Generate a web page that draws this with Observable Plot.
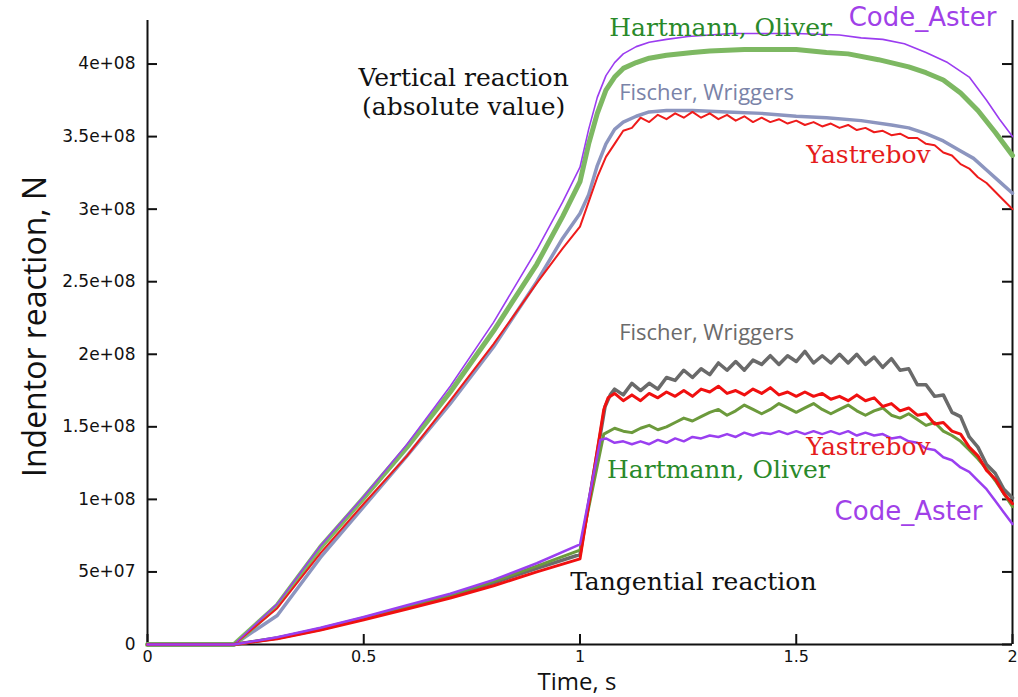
<!DOCTYPE html>
<html><head><meta charset="utf-8">
<script src="https://cdn.jsdelivr.net/npm/d3@7"></script>
<script src="https://cdn.jsdelivr.net/npm/@observablehq/plot@0.6"></script>
<style>body{margin:0;background:#fff;}</style>
</head><body><div id="chart"></div>
<script>
// ---- axis ticks ----
const xTicks = [0, 0.5, 1, 1.5, 2];
const yTicks = [0, 5e7, 1e8, 1.5e8, 2e8, 2.5e8, 3e8, 3.5e8, 4e8];

// ---- vertical reaction (values in units of 1e8 N) ----
const tVertAster = [0, 0.2, 0.3, 0.4, 0.5, 0.6, 0.7, 0.8, 0.9, 0.96, 1.0, 1.02, 1.04, 1.06, 1.08, 1.10, 1.13, 1.16, 1.20, 1.25, 1.30, 1.35, 1.40, 1.50, 1.60, 1.65, 1.70, 1.75, 1.80, 1.85, 1.90, 1.94, 1.97, 2.0];
const vVertAster = [0, 0, 0.28, 0.68, 1.02, 1.38, 1.78, 2.22, 2.72, 3.05, 3.29, 3.55, 3.77, 3.92, 4.01, 4.07, 4.12, 4.15, 4.17, 4.19, 4.20, 4.21, 4.21, 4.21, 4.20, 4.18, 4.17, 4.14, 4.08, 4.01, 3.91, 3.75, 3.62, 3.50];

const tVertHartmann = [0, 0.2, 0.3, 0.4, 0.5, 0.6, 0.7, 0.8, 0.9, 0.96, 1.0, 1.02, 1.04, 1.06, 1.08, 1.10, 1.13, 1.16, 1.20, 1.26, 1.30, 1.38, 1.45, 1.50, 1.57, 1.62, 1.69, 1.76, 1.80, 1.84, 1.88, 1.92, 1.96, 2.0];
const vVertHartmann = [0, 0, 0.27, 0.67, 1.01, 1.36, 1.74, 2.16, 2.62, 2.95, 3.19, 3.45, 3.66, 3.82, 3.91, 3.97, 4.01, 4.04, 4.06, 4.08, 4.09, 4.10, 4.10, 4.10, 4.08, 4.07, 4.03, 3.98, 3.94, 3.89, 3.80, 3.68, 3.53, 3.37];

const tVertFischer = [0, 0.2, 0.3, 0.4, 0.5, 0.6, 0.7, 0.8, 0.9, 0.96, 1.0, 1.02, 1.04, 1.06, 1.08, 1.10, 1.13, 1.16, 1.20, 1.26, 1.34, 1.42, 1.50, 1.57, 1.65, 1.72, 1.76, 1.80, 1.84, 1.88, 1.91, 1.94, 1.97, 2.0];
const vVertFischer = [0, 0, 0.20, 0.60, 0.95, 1.30, 1.66, 2.05, 2.50, 2.80, 2.97, 3.10, 3.30, 3.45, 3.55, 3.60, 3.64, 3.67, 3.68, 3.68, 3.67, 3.66, 3.64, 3.63, 3.61, 3.58, 3.56, 3.52, 3.47, 3.40, 3.35, 3.27, 3.19, 3.11];

const tVertYastrebovRise = [0, 0.2, 0.3, 0.4, 0.5, 0.6, 0.7, 0.8, 0.9, 0.96, 1.0, 1.02, 1.04, 1.06];
const vVertYastrebovRise = [0, 0, 0.25, 0.63, 0.97, 1.30, 1.68, 2.07, 2.49, 2.73, 2.88, 3.05, 3.22, 3.36];

// common time grid of the plateau parts
const tPlateau = [1.08, 1.10, 1.12, 1.14, 1.16, 1.18, 1.20, 1.22, 1.24, 1.26, 1.28, 1.30, 1.32, 1.34, 1.36, 1.38, 1.40, 1.42, 1.44, 1.46, 1.48, 1.50, 1.52, 1.54, 1.56, 1.58, 1.60, 1.62, 1.64, 1.66, 1.68, 1.70, 1.72, 1.74, 1.76, 1.78, 1.80, 1.82, 1.84, 1.86, 1.88, 1.90, 1.92, 1.94, 1.96, 1.98, 2.00];
const vVertYastrebovPlateau = [3.45, 3.54, 3.56, 3.63, 3.60, 3.65, 3.62, 3.66, 3.63, 3.67, 3.63, 3.66, 3.62, 3.65, 3.61, 3.64, 3.60, 3.63, 3.60, 3.62, 3.59, 3.61, 3.58, 3.60, 3.57, 3.59, 3.56, 3.58, 3.545, 3.56, 3.53, 3.54, 3.51, 3.52, 3.49, 3.49, 3.45, 3.44, 3.39, 3.37, 3.31, 3.28, 3.22, 3.18, 3.12, 3.06, 3.00];

// ---- tangential reaction (values in units of 1e8 N) ----
const tTanRise = [0, 0.2, 0.3, 0.4, 0.5, 0.6, 0.7, 0.8, 0.9, 1.0];

const vTanAsterRise = [0, 0, 0.05, 0.115, 0.19, 0.27, 0.35, 0.445, 0.56, 0.69];
const tTanAsterJump = [1.047, 1.06];
const vTanAsterJump = [1.41, 1.42];
const vTanAsterPlateau = [1.39, 1.40, 1.38, 1.40, 1.38, 1.41, 1.39, 1.42, 1.40, 1.43, 1.42, 1.44, 1.43, 1.45, 1.43, 1.46, 1.44, 1.46, 1.45, 1.47, 1.45, 1.47, 1.45, 1.47, 1.45, 1.47, 1.45, 1.47, 1.44, 1.46, 1.44, 1.45, 1.42, 1.43, 1.40, 1.39, 1.35, 1.34, 1.29, 1.27, 1.22, 1.19, 1.13, 1.07, 0.99, 0.91, 0.83];

const vTanYastrebovRise = [0, 0, 0.04, 0.10, 0.17, 0.245, 0.32, 0.405, 0.50, 0.59];
const tTanYastrebovJump = [1.055, 1.065];
const vTanYastrebovJump = [1.62, 1.70];
const vTanYastrebovPlateau = [1.73, 1.68, 1.72, 1.68, 1.73, 1.70, 1.74, 1.71, 1.75, 1.71, 1.76, 1.74, 1.78, 1.73, 1.75, 1.72, 1.76, 1.73, 1.77, 1.72, 1.74, 1.71, 1.74, 1.71, 1.73, 1.69, 1.71, 1.68, 1.72, 1.68, 1.70, 1.64, 1.66, 1.61, 1.63, 1.58, 1.59, 1.52, 1.53, 1.47, 1.45, 1.36, 1.30, 1.20, 1.14, 1.04, 0.97];

const vTanFischerRise = [0, 0, 0.045, 0.105, 0.18, 0.255, 0.335, 0.425, 0.525, 0.62];
const tTanFischerJump = [1.058, 1.07];
const vTanFischerJump = [1.64, 1.72];
const vTanFischerPlateau = [1.76, 1.72, 1.80, 1.75, 1.80, 1.76, 1.84, 1.82, 1.89, 1.84, 1.90, 1.86, 1.94, 1.89, 1.95, 1.89, 1.96, 1.93, 1.99, 1.93, 1.99, 1.95, 2.02, 1.94, 1.99, 1.94, 2.00, 1.94, 2.00, 1.93, 1.98, 1.91, 1.97, 1.89, 1.90, 1.79, 1.79, 1.71, 1.72, 1.60, 1.57, 1.43, 1.36, 1.24, 1.18, 1.07, 1.01];

const vTanHartmannRise = [0, 0, 0.045, 0.11, 0.185, 0.26, 0.34, 0.435, 0.54, 0.65];
const tTanHartmannJump = [1.055];
const vTanHartmannJump = [1.45];
const vTanHartmannPlateau = [1.49, 1.47, 1.46, 1.49, 1.51, 1.48, 1.50, 1.53, 1.56, 1.54, 1.57, 1.60, 1.62, 1.58, 1.61, 1.65, 1.62, 1.59, 1.62, 1.66, 1.63, 1.60, 1.63, 1.66, 1.62, 1.59, 1.62, 1.65, 1.61, 1.58, 1.61, 1.63, 1.58, 1.56, 1.59, 1.55, 1.51, 1.53, 1.47, 1.44, 1.40, 1.34, 1.28, 1.21, 1.13, 1.04, 0.95];

// ---- annotation labels ----
const serifLabels = [
  {text: "Hartmann, Oliver", t: 1.325, v: 4.25e8, color: "#2a8a2a"},
  {text: "Vertical reaction", t: 0.731, v: 3.905e8, color: "#111111"},
  {text: "(absolute value)", t: 0.731, v: 3.705e8, color: "#111111"},
  {text: "Yastrebov", t: 1.667, v: 3.37e8, color: "#e51c1c"},
  {text: "Yastrebov", t: 1.667, v: 1.36e8, color: "#e51c1c"},
  {text: "Hartmann, Oliver", t: 1.320, v: 1.20e8, color: "#2a8a2a"},
  {text: "Tangential reaction", t: 1.262, v: 0.43e8, color: "#111111"}
];
const asterLabels = [
  {text: "Code_Aster", t: 1.792, v: 4.32e8},
  {text: "Code_Aster", t: 1.7595, v: 0.912e8}
];
const fischerLabels = [
  {text: "Fischer, Wriggers", t: 1.2925, v: 3.80e8, color: "#7a83a8"},
  {text: "Fischer, Wriggers", t: 1.2925, v: 2.147e8, color: "#6b6b6b"}
];

// ---- build tables ----
const rows = (ts, vs) => ts.map((t, i) => ({t, v: vs[i] * 1e8}));
const vertAster = rows(tVertAster, vVertAster);
const vertHartmann = rows(tVertHartmann, vVertHartmann);
const vertFischer = rows(tVertFischer, vVertFischer);
const vertYastrebov = rows(tVertYastrebovRise.concat(tPlateau), vVertYastrebovRise.concat(vVertYastrebovPlateau));
const tanAster = rows(tTanRise.concat(tTanAsterJump, tPlateau), vTanAsterRise.concat(vTanAsterJump, vTanAsterPlateau));
const tanYastrebov = rows(tTanRise.concat(tTanYastrebovJump, tPlateau), vTanYastrebovRise.concat(vTanYastrebovJump, vTanYastrebovPlateau));
const tanFischer = rows(tTanRise.concat(tTanFischerJump, tPlateau), vTanFischerRise.concat(vTanFischerJump, vTanFischerPlateau));
const tanHartmann = rows(tTanRise.concat(tTanHartmannJump, tPlateau), vTanHartmannRise.concat(vTanHartmannJump, vTanHartmannPlateau));

const fmt = v => v === 0 ? "0" : v.toExponential().replace(/e\+(\d)$/, "e+0$1");
const SERIF = "DejaVu Serif, serif";
const TICKFONT = "DejaVu Sans, sans-serif";

// frame geometry (pixels)
const W = 1018, H = 697, ML = 147, MR = 6, MT = 20, MB = 53;
const innerW = W - ML - MR;
const TICK = 10;

const chart = Plot.plot({
  width: W, height: H,
  marginLeft: ML, marginRight: MR, marginTop: MT, marginBottom: MB,
  x: {domain: [0, 2]},
  y: {domain: [0, 4.3e8]},
  style: {fontFamily: TICKFONT, background: "#fff", color: "#111"},
  marks: [
    Plot.axisY(yTicks, {anchor: "left", tickSize: 0, tickPadding: 12, tickFormat: fmt, fontSize: 17, fontFamily: TICKFONT, label: null}),
    Plot.axisX(xTicks, {anchor: "bottom", tickSize: 0, tickPadding: 6, tickFormat: d => String(d), fontSize: 16, fontFamily: TICKFONT, label: null}),
    // inward ticks
    Plot.tickY(yTicks, {y: d => d, insetRight: innerW - TICK, stroke: "#111", strokeWidth: 2}),
    Plot.tickY(yTicks, {y: d => d, insetLeft: innerW - TICK, stroke: "#111", strokeWidth: 2}),
    Plot.axisX(xTicks, {anchor: "bottom", tickSize: TICK, dy: -TICK, fill: "none", stroke: "#111", strokeWidth: 2, label: null}),
    Plot.ruleX([0, 2], {stroke: "#111", strokeWidth: 2}),
    Plot.ruleY([0], {stroke: "#111", strokeWidth: 2}),
    // vertical reaction
    Plot.line(vertFischer, {x: "t", y: "v", stroke: "#8c95bf", strokeWidth: 3.5}),
    Plot.line(vertHartmann, {x: "t", y: "v", stroke: "#7db862", strokeWidth: 5}),
    Plot.line(vertYastrebov, {x: "t", y: "v", stroke: "#ee1b1b", strokeWidth: 2}),
    Plot.line(vertAster, {x: "t", y: "v", stroke: "#9b3cf0", strokeWidth: 1.6}),
    // tangential reaction
    Plot.line(tanFischer, {x: "t", y: "v", stroke: "#6a6a6a", strokeWidth: 3.5}),
    Plot.line(tanHartmann, {x: "t", y: "v", stroke: "#6c9a3c", strokeWidth: 3}),
    Plot.line(tanYastrebov, {x: "t", y: "v", stroke: "#f01010", strokeWidth: 3}),
    Plot.line(tanAster, {x: "t", y: "v", stroke: "#9a3ff0", strokeWidth: 2.5}),
    // labels
    Plot.text(serifLabels, {x: "t", y: "v", text: "text", fill: "color", fontFamily: SERIF, fontSize: 25}),
    Plot.text(asterLabels, {x: "t", y: "v", text: "text", fill: "#a040e8", fontFamily: "DejaVu Sans, sans-serif", fontSize: 26}),
    Plot.text(fischerLabels, {x: "t", y: "v", text: "text", fill: "color", fontFamily: "Open Sans, sans-serif", fontSize: 22}),
    // axis titles
    Plot.text(["Time, s"], {frameAnchor: "bottom", lineAnchor: "middle", textAnchor: "middle", dy: 38, dx: -3, fontSize: 24, fontFamily: "Open Sans, sans-serif", fill: "#111"}),
    Plot.text(["Indentor reaction, N"], {frameAnchor: "left", lineAnchor: "middle", textAnchor: "middle", rotate: -90, dx: -112, dy: -6, fontSize: 32, fontFamily: "Open Sans, sans-serif", fill: "#111"})
  ]
});
document.getElementById("chart").appendChild(chart);
</script>
</body></html>
